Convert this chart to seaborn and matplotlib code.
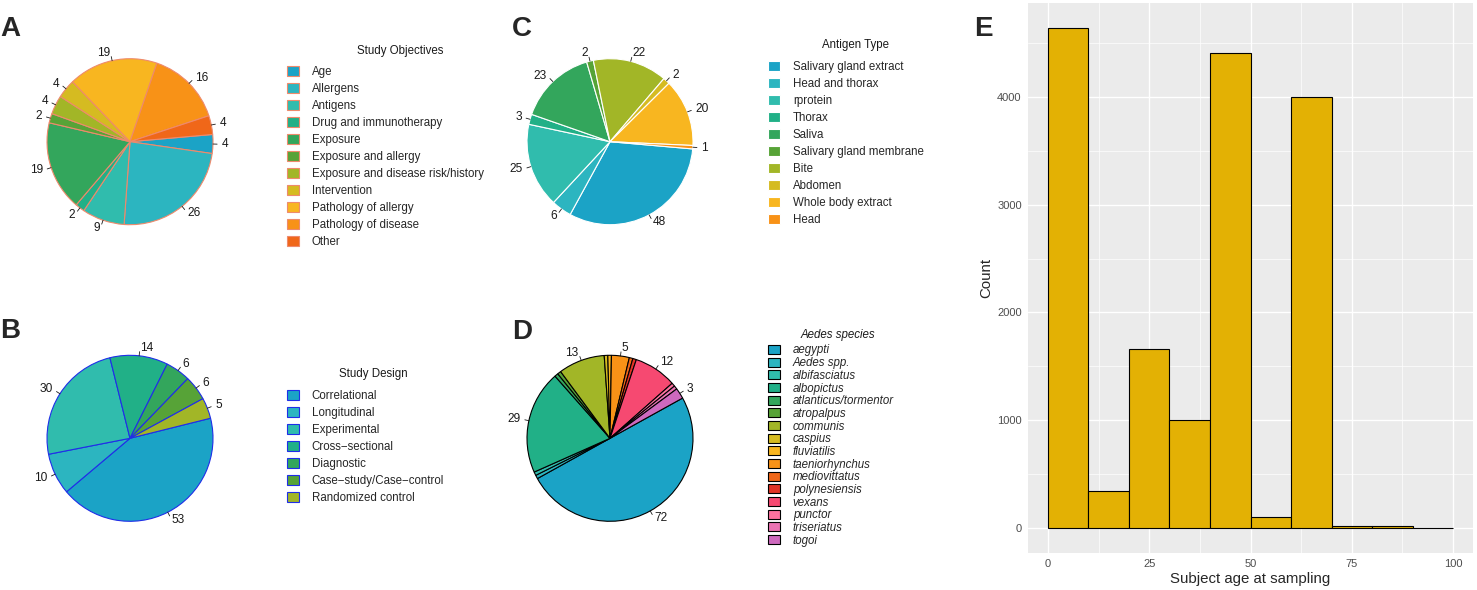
import matplotlib
matplotlib.use("Agg")
import matplotlib.pyplot as plt
import numpy as np
import seaborn as sns

W, H = 1477, 590

# Tableau "Hue Circle" colours, in legend order
hue_circle = ["#1ba3c6", "#2cb5c0", "#30bcad", "#21b087", "#33a65c", "#57a337",
              "#a2b627", "#d5bb21", "#f8b620", "#f89217", "#f06719", "#e03426",
              "#f64971", "#fc719e", "#eb73b3", "#ce69be"]

objectives = ["Age", "Allergens", "Antigens", "Drug and immunotherapy", "Exposure",
              "Exposure and allergy", "Exposure and disease risk/history", "Intervention",
              "Pathology of allergy", "Pathology of disease", "Other"]
objective_counts = [4, 26, 9, 2, 19, 2, 4, 4, 19, 16, 4]

designs = ["Correlational", "Longitudinal", "Experimental", "Cross\u2212sectional",
           "Diagnostic", "Case\u2212study/Case\u2212control", "Randomized control"]
design_counts = [53, 10, 30, 14, 6, 6, 5]

antigens = ["Salivary gland extract", "Head and thorax", "rprotein", "Thorax", "Saliva",
            "Salivary gland membrane", "Bite", "Abdomen", "Whole body extract", "Head"]
antigen_counts = [48, 6, 25, 3, 23, 2, 22, 2, 20, 1]

species = ["aegypti", "Aedes spp.", "albifasciatus", "albopictus", "atlanticus/tormentor",
           "atropalpus", "communis", "caspius", "fluviatilis", "taeniorhynchus",
           "mediovittatus", "polynesiensis", "vexans", "punctor", "triseriatus", "togoi"]
species_counts = [72, 1, 1, 29, 1, 1, 13, 1, 1, 5, 1, 1, 12, 1, 1, 3]

age_edges = [0, 10, 20, 30, 40, 50, 60, 70, 80, 90, 100]
age_counts = [4640, 345, 1660, 1000, 4405, 105, 4000, 18, 18, 3]

sns.set_style("white")
plt.rcParams["font.family"] = ["Liberation Sans", "DejaVu Sans"]

fig = plt.figure(figsize=(W / 100, H / 100), dpi=100)

R = 83
HALF = 120
LEG_FS = 8.3


def draw_pie(cx, cy, counts, names, edge, start, title, title_xy, leg_x, leg_y,
             min_label=0, italic=False, spacing=0.433, key_h=0.96):
    ax = fig.add_axes([(cx - HALF) / W, 1 - (cy + HALF) / H, 2 * HALF / W, 2 * HALF / H])
    labels = [str(v) if v >= min_label else "" for v in counts]
    wedges, _ = ax.pie(counts, labels=labels, colors=hue_circle[:len(counts)],
                       startangle=start, counterclock=False, labeldistance=1.1,
                       wedgeprops=dict(edgecolor=edge, linewidth=0.8),
                       textprops=dict(fontsize=8.6, color="#1a1a1a"))
    for w, lab in zip(wedges, labels):
        if lab:
            a = np.deg2rad((w.theta1 + w.theta2) / 2)
            ax.plot([np.cos(a), 1.05 * np.cos(a)], [np.sin(a), 1.05 * np.sin(a)],
                    color="#1a1a1a", lw=0.6)
    lim = HALF / R
    ax.set_xlim(-lim, lim)
    ax.set_ylim(-lim, lim)
    style = "italic" if italic else "normal"
    fig.legend(wedges, names, loc="upper left",
               bbox_to_anchor=(leg_x / W, 1 - leg_y / H), frameon=False,
               prop=dict(size=LEG_FS, style=style),
               handlelength=1.0, handleheight=key_h, handletextpad=1.15,
               labelspacing=spacing, borderpad=0, borderaxespad=0)
    fig.text(title_xy[0] / W, 1 - title_xy[1] / H, title, fontsize=LEG_FS,
             style=style, ha="center", va="center", color="#1a1a1a")


draw_pie(130, 141.7, objective_counts, objectives, "#ee8a6c", 5,
         "Study Objectives", (400, 51), 287, 66.2)
draw_pie(130, 438.3, design_counts, designs, "#1f2ee8", 14,
         "Study Design", (373, 374), 287, 390.2)
draw_pie(610, 141.7, antigen_counts, antigens, "white", -5,
         "Antigen Type", (856, 45.3), 768, 61.2)
draw_pie(610, 438.3, species_counts, species, "black", 29,
         "Aedes species", (838, 335), 768, 344.5, min_label=3, italic=True,
         spacing=0.058, key_h=0.85)

# histogram of subject age
ax = fig.add_axes([1027.7 / W, 1 - 553 / H, 445.6 / W, 550 / H])
age_mid = [(a + b) / 2 for a, b in zip(age_edges[:-1], age_edges[1:])]
sns.histplot(x=age_mid, weights=age_counts, bins=age_edges, color="#e3b104",
             edgecolor="black", linewidth=0.8, alpha=1, ax=ax)
ax.set_facecolor("#ebebeb")
ax.set_xlim(-5, 105)
ax.set_ylim(-232, 4872)
ax.set_xticks([0, 25, 50, 75, 100])
ax.set_xticks([12.5, 37.5, 62.5, 87.5], minor=True)
ax.set_yticks([0, 1000, 2000, 3000, 4000])
ax.set_yticks([500, 1500, 2500, 3500, 4500], minor=True)
ax.grid(which="major", color="white", lw=1.0)
ax.grid(which="minor", color="white", lw=0.5)
ax.set_axisbelow(True)
for s in ax.spines.values():
    s.set_visible(False)
ax.tick_params(which="major", length=2.8, width=0.6, color="#333333",
               labelsize=8, labelcolor="#4d4d4d", pad=1.5)
ax.tick_params(which="minor", length=0)
ax.set_xlabel("Subject age at sampling", fontsize=10.8, labelpad=2)
ax.set_ylabel("Count", fontsize=10.8, labelpad=3)

for letter, x, y in [("A", 0, 36), ("B", 0, 338), ("C", 512, 36), ("D", 512, 339), ("E", 974, 36)]:
    fig.text(x / W, 1 - y / H, letter, fontsize=20, fontweight="bold", va="baseline", ha="left")

fig.savefig("out.png", dpi=100)
